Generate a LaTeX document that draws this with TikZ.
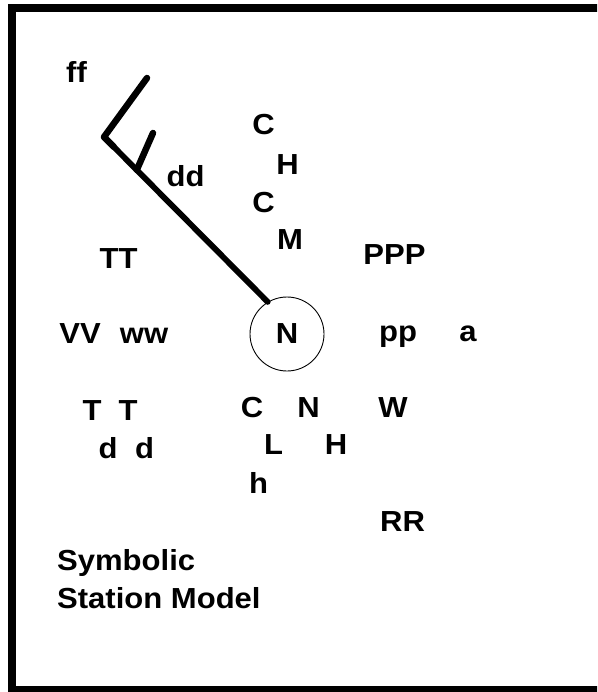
\documentclass[tikz,border=0pt]{standalone}
\usepackage{fontspec}
\setmainfont{Liberation Sans}[FakeStretch=1.07, UprightFont=* Bold]
\usetikzlibrary{calc}
\begin{document}
\begin{tikzpicture}[x=1pt,y=-1pt,
  lbl/.style={inner sep=0pt, anchor=base, font=\fontsize{29}{34}\selectfont},
  lblw/.style={lbl, anchor=base west},
  frame/.style={line width=8pt},
  staff/.style={line width=5.8pt, line cap=round},
  barb/.style={line width=6.5pt, line cap=round, line join=round},
  stncircle/.style={circle, draw, line width=0.9pt, minimum size=74pt, inner sep=0pt, font=\fontsize{29}{34}\selectfont}]
\useasboundingbox (0,0) rectangle (597,692);
\clip (0,0) rectangle (597,692);
\draw[frame] (12,8) rectangle (620,690);
% station circle
\node[stncircle] (stn) at (287,334) {N};
% wind staff and barbs
\coordinate (vtx) at (104,137);
\coordinate (longtip) at (147,78);
\coordinate (shortbase) at ($(vtx)!0.2!(stn.121)$);
\coordinate (shorttip) at (153,133);
\draw[staff] (stn.121) -- (vtx);
\draw[barb] (longtip) -- (vtx) -- ($(vtx)!0.06!(stn.121)$);
\draw[barb] (shortbase) -- (shorttip);
% labels
\node[lbl] (ff) at (76.5,83) {ff};
\node[lbl] (c1) at (263.5,135) {C};
\node[lbl] (h1) at (287.5,175) {H};
\node[lbl] (dd) at (185.5,187) {dd};
\node[lbl] (c2) at (263.5,213) {C};
\node[lbl] (m) at (290,250) {M};
\node[lbl] (ppp) at (394.5,264) {PPP};
\node[lbl] (tt) at (118.5,268) {TT};
\node[lbl] (vv) at (80,343) {VV};
\node[lbl] (ww) at (144,343) {ww};
\node[lbl] (pp) at (398,341) {pp};
\node[lbl] (a) at (468,341) {a};
\node[lbl] (t1) at (92,420) {T};
\node[lbl] (t2) at (128,420) {T};
\node[lbl] (d1) at (108,458) {d};
\node[lbl] (d2) at (144.5,458) {d};
\node[lbl] (c3) at (252,417) {C};
\node[lbl] (n2) at (308.5,417) {N};
\node[lbl] (w) at (393,417) {W};
\node[lbl] (l) at (273.5,454) {L};
\node[lbl] (h2) at (336,454) {H};
\node[lbl] (h3) at (258.5,493) {h};
\node[lbl] (rr) at (402.5,531) {RR};
\node[lblw] (sym1) at (57,570) {Symbolic};
\node[lblw] (sym2) at (57,608) {Station Model};
\end{tikzpicture}
\end{document}
